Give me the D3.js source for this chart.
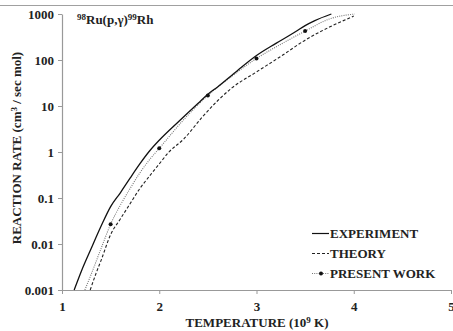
<!DOCTYPE html>
<html>
<head>
<meta charset="utf-8">
<script src="https://cdn.jsdelivr.net/npm/d3@7"></script>
<style>
  body { margin: 0; background: #fff; }
  svg text { font-family: "Liberation Serif", "Times New Roman", serif; font-weight: bold; fill: #222; }
</style>
</head>
<body>
<div id="chart"></div>
<script>
// temperature (10^9 K) and rate values
const expT   = [1.125, 1.2, 1.3, 1.4, 1.5, 1.6, 1.7, 1.8, 1.9, 2.0, 2.2, 2.4, 2.5, 2.6, 2.8, 3.0, 3.2, 3.4, 3.5, 3.6, 3.77];
const expVal = [0.001, 0.0026, 0.008, 0.024, 0.065, 0.13, 0.27, 0.55, 1.05, 1.8, 4.6, 11.5, 18, 26, 58, 125, 230, 410, 560, 720, 1000];

const theoT   = [1.29, 1.35, 1.4, 1.5, 1.6, 1.7, 1.8, 1.9, 2.0, 2.1, 2.25, 2.45, 2.6, 2.75, 3.0, 3.25, 3.5, 3.75, 4.0];
const theoVal = [0.001, 0.0023, 0.0043, 0.016, 0.035, 0.075, 0.16, 0.3, 0.55, 1.0, 1.9, 6, 13, 25, 55, 120, 270, 520, 900];

const presT   = [1.235, 1.3, 1.4, 1.5, 1.6, 1.7, 1.8, 1.9, 2.0, 2.25, 2.5, 2.75, 3.0, 3.25, 3.5, 3.75, 4.01];
const presVal = [0.001, 0.0022, 0.0078, 0.027, 0.07, 0.16, 0.35, 0.68, 1.2, 5, 17, 45, 108, 220, 425, 780, 1000];
const markT   = [1.5, 2.0, 2.5, 3.0, 3.5];
const markVal = [0.027, 1.2, 17, 108, 425];

const xTicks = [1, 2, 3, 4, 5];
const yTicks = [0.001, 0.01, 0.1, 1, 10, 100, 1000];
const yTickLabels = ["0.001", "0.01", "0.1", "1", "10", "100", "1000"];

const width = 453;
const height = 331;

const svg = d3.select('#chart').append('svg')
  .attr('width', width)
  .attr('height', height);

const x = d3.scaleLinear().domain([1, 5]).range([62, 451]);
const y = d3.scaleLog().domain([0.001, 1000]).range([290, 14]);

// gray rule at the top of the figure
svg.append('line')
  .attr('x1', 0).attr('x2', width)
  .attr('y1', 5.5).attr('y2', 5.5)
  .attr('stroke', '#a0a0a0').attr('stroke-width', 1.2);

// axes
const xAxis = svg.append('g')
  .attr('transform', `translate(0,${y(0.001)})`)
  .call(d3.axisBottom(x).tickValues(xTicks).tickFormat(d3.format('d')).tickSize(4).tickSizeOuter(0));
const yAxis = svg.append('g')
  .attr('transform', `translate(${x(1)},0)`)
  .call(d3.axisLeft(y).tickValues(yTicks).tickFormat((d, i) => yTickLabels[i]).tickSize(4).tickSizeOuter(0));

[xAxis, yAxis].forEach(g => {
  g.select('.domain').attr('stroke', '#999').attr('stroke-width', 1.2);
  g.selectAll('.tick line').attr('stroke', '#999');
  g.selectAll('.tick text')
    .attr('font-size', '13px')
    .attr('font-family', '"Liberation Serif", serif')
    .attr('fill', '#222');
});
xAxis.selectAll('.tick text').attr('dy', '1.1em');
yAxis.selectAll('.tick text').attr('x', -8);

// curves
const line = d3.line()
  .x(d => x(d[0]))
  .y(d => y(d[1]))
  .curve(d3.curveMonotoneX);

svg.append('path')
  .datum(d3.zip(presT, presVal))
  .attr('d', line)
  .attr('fill', 'none')
  .attr('stroke', '#777')
  .attr('stroke-width', 1.1)
  .attr('stroke-dasharray', '1,1.2');

svg.append('path')
  .datum(d3.zip(theoT, theoVal))
  .attr('d', line)
  .attr('fill', 'none')
  .attr('stroke', '#222')
  .attr('stroke-width', 1.1)
  .attr('stroke-dasharray', '3,2');

svg.append('path')
  .datum(d3.zip(expT, expVal))
  .attr('d', line)
  .attr('fill', 'none')
  .attr('stroke', '#111')
  .attr('stroke-width', 1.3);

svg.append('g')
  .selectAll('circle')
  .data(d3.zip(markT, markVal))
  .join('circle')
  .attr('cx', d => x(d[0]))
  .attr('cy', d => y(d[1]))
  .attr('r', 2)
  .attr('fill', '#111');

// reaction label
const title = svg.append('text')
  .attr('x', 77).attr('y', 24)
  .attr('font-size', '13px');
title.append('tspan').attr('font-size', '9px').attr('dy', -4).text('98');
title.append('tspan').attr('dy', 4).text('Ru(p,γ)');
title.append('tspan').attr('font-size', '9px').attr('dy', -4).text('99');
title.append('tspan').attr('dy', 4).text('Rh');

// axis titles
const xt = svg.append('text')
  .attr('x', 257).attr('y', 327)
  .attr('text-anchor', 'middle')
  .attr('font-size', '13px');
xt.append('tspan').text('TEMPERATURE (10');
xt.append('tspan').attr('font-size', '9px').attr('dy', -4).text('9');
xt.append('tspan').attr('dy', 4).text(' K)');

const yt = svg.append('text')
  .attr('transform', 'translate(21,148) rotate(-90)')
  .attr('text-anchor', 'middle')
  .attr('font-size', '13px');
yt.append('tspan').text('REACTION RATE (cm');
yt.append('tspan').attr('font-size', '9px').attr('dy', -4).text('3');
yt.append('tspan').attr('dy', 4).text(' / sec mol)');

// legend
const legend = [
  { name: 'EXPERIMENT', dash: null, color: '#111', marker: false },
  { name: 'THEORY', dash: '3,2', color: '#222', marker: false },
  { name: 'PRESENT WORK', dash: '1,1.2', color: '#777', marker: true }
];
const lg = svg.append('g');
legend.forEach((d, i) => {
  const yy = 233.5 + i * 20;
  lg.append('line')
    .attr('x1', 312).attr('x2', 329)
    .attr('y1', yy).attr('y2', yy)
    .attr('stroke', d.color)
    .attr('stroke-width', 1.2)
    .attr('stroke-dasharray', d.dash);
  if (d.marker) {
    lg.append('circle').attr('cx', 321).attr('cy', yy).attr('r', 2).attr('fill', '#111');
  }
  lg.append('text')
    .attr('x', 330).attr('y', yy + 4.5)
    .attr('font-size', '13px')
    .text(d.name);
});
</script>
</body>
</html>
